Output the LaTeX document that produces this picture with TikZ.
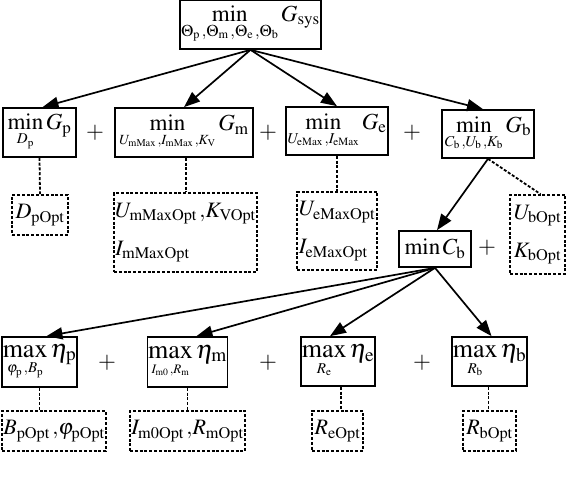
\documentclass[tikz,border=0pt]{standalone}
\usepackage{mathptmx}
\usetikzlibrary{arrows.meta}
\newcommand{\subsz}[2]{\mbox{\fontsize{#1}{#1}\selectfont$#2$}}
\tikzset{
  optbox/.style={draw,line width=1.7pt,inner sep=1pt},
  effbox/.style={optbox,inner sep=0.5pt,font=\fontsize{26}{31}\selectfont},
  resbox/.style={draw,dash pattern=on 3pt off 1.8pt,line width=1.8pt,inner sep=1pt,font=\fontsize{22}{26}\selectfont},
  tree/.style={line width=1.7pt,-{Triangle[length=16pt,width=12pt]}},
  link/.style={dash pattern=on 3pt off 1.8pt,line width=1.8pt},
}
\begin{document}
\begin{tikzpicture}[x=1pt,y=1pt,font=\fontsize{23}{27}\selectfont]
    \useasboundingbox (0,0) rectangle (566,-486);
    \node[optbox,minimum width=129pt,minimum height=49pt] (gsys) at (250.5,-24.5) {$\displaystyle\min_{\subsz{16.5}{\Theta_{\mathrm p}\,{,}\Theta_{\mathrm m}\,{,}\Theta_{\mathrm e}\,{,}\Theta_{\mathrm b}}} G_{\mathrm{sys}}$};
    \node[optbox,minimum width=73pt,minimum height=49pt] (gp) at (39.5,-132.5) {$\displaystyle\min_{\subsz{15}{D_{\mathrm p}}} G_{\mathrm p}$};
    \node[optbox,minimum width=138pt,minimum height=49pt] (gm) at (184,-132.5) {$\displaystyle\min_{\subsz{14}{U_{\mathrm{mMax}}\,{,}I_{\mathrm{mMax}}\,{,}K_{\mathrm V}}} G_{\mathrm m}$};
    \node[optbox,minimum width=102pt,minimum height=48pt] (ge) at (337,-131) {$\displaystyle\min_{\subsz{15}{U_{\mathrm{eMax}}\,{,}I_{\mathrm{eMax}}}} G_{\mathrm e}$};
    \node[optbox,minimum width=92pt,minimum height=48pt] (gb) at (488,-134) {$\displaystyle\min_{\subsz{15}{C_{\mathrm b}\,{,}U_{\mathrm b}\,{,}K_{\mathrm b}}} G_{\mathrm b}$};
    \node (plusa) at (95,-133) {$+$};
    \node (plusb) at (268,-133) {$+$};
    \node (plusc) at (412,-133) {$+$};
    \node[resbox,minimum width=56pt,minimum height=40pt] (dp) at (40,-215) {$D_{\mathrm{pOpt}}$};
    \node[resbox,align=left,minimum width=143pt,minimum height=79pt] (um) at (185.5,-232.5) {$U_{\mathrm{mMaxOpt}}\,{,}K_{\mathrm{VOpt}}$\\[12pt]$I_{\mathrm{mMaxOpt}}$};
    \node[resbox,align=left,minimum width=80pt,minimum height=78pt] (ue) at (337,-231) {$U_{\mathrm{eMaxOpt}}$\\[12pt]$I_{\mathrm{eMaxOpt}}$};
    \node[resbox,align=left,minimum width=55pt,minimum height=79pt] (ub) at (537.5,-234.5) {$U_{\mathrm{bOpt}}$\\[12pt]$K_{\mathrm{bOpt}}$};
    \node[optbox,minimum width=72pt,minimum height=36pt] (cb) at (435,-249) {$\min C_{\mathrm b}$};
    \node (plusd) at (487,-248) {$+$};
    \node[effbox,minimum width=73pt,minimum height=50pt] (ep) at (39.5,-362) {$\displaystyle\max_{\subsz{15}{\varphi_{\mathrm p}\,{,}B_{\mathrm p}}} \eta_{\mathrm p}$};
    \node[effbox,minimum width=79pt,minimum height=50pt] (em) at (187.5,-362) {$\displaystyle\max_{\subsz{13}{I_{\mathrm{m0}}\,{,}R_{\mathrm m}}} \eta_{\mathrm m}$};
    \node[effbox,minimum width=70pt,minimum height=49pt] (ee) at (338,-361.5) {$\displaystyle\max_{\subsz{15}{R_{\mathrm e}}} \eta_{\mathrm e}$};
    \node[effbox,minimum width=73pt,minimum height=49pt] (eb) at (489.5,-361.5) {$\displaystyle\max_{\subsz{15}{R_{\mathrm b}}} \eta_{\mathrm b}$};
    \node (pluse) at (107,-363) {$+$};
    \node (plusf) at (268,-363) {$+$};
    \node (plusg) at (422,-363) {$+$};
    \node[resbox,minimum width=102pt,minimum height=40pt] (bp) at (54,-431) {$B_{\mathrm{pOpt}}\,{,}\varphi_{\mathrm{pOpt}}$};
    \node[resbox,minimum width=115pt,minimum height=40pt] (im) at (187.5,-431) {$I_{\mathrm{m0Opt}}\,{,}R_{\mathrm{mOpt}}$};
    \node[resbox,minimum width=51pt,minimum height=40pt] (re) at (337.5,-431) {$R_{\mathrm{eOpt}}$};
    \node[resbox,minimum width=53pt,minimum height=40pt] (rb) at (489.5,-431) {$R_{\mathrm{bOpt}}$};
    \draw[tree] (gsys.south) -- ([xshift=3pt]gp.north);
    \draw[tree] (gsys.south) -- (gm.north);
    \draw[tree] (gsys.south) -- (ge.north);
    \draw[tree] (gsys.south) -- ([xshift=-5pt]gb.north);
    \draw[tree] (gb.south) -- ([xshift=2pt]cb.north);
    \draw[link] (gb.south) -- ([xshift=3pt]ub.north);
    \draw[tree] (cb.south) -- ([xshift=7pt]ep.north);
    \draw[tree] (cb.south) -- ([xshift=9pt]em.north);
    \draw[tree] (cb.south) -- ([xshift=-8pt]ee.north);
    \draw[tree] (cb.south) -- ([xshift=2pt]eb.north);
    \draw[link] (gp.south) -- (dp.north);
    \draw[link] ([xshift=2pt]gm.south) -- ([xshift=2pt]gm.south |- um.north);
    \draw[link] (ge.south) -- (ue.north);
    \draw[link] (ep.south) -- (ep.south |- bp.north);
    \draw[link] (em.south) -- (im.north);
    \draw[link] ([xshift=3pt]ee.south) -- ([xshift=3pt]ee.south |- re.north);
    \draw[link] ([xshift=-1pt]eb.south) -- ([xshift=-1pt]eb.south |- rb.north);
\end{tikzpicture}
\end{document}
